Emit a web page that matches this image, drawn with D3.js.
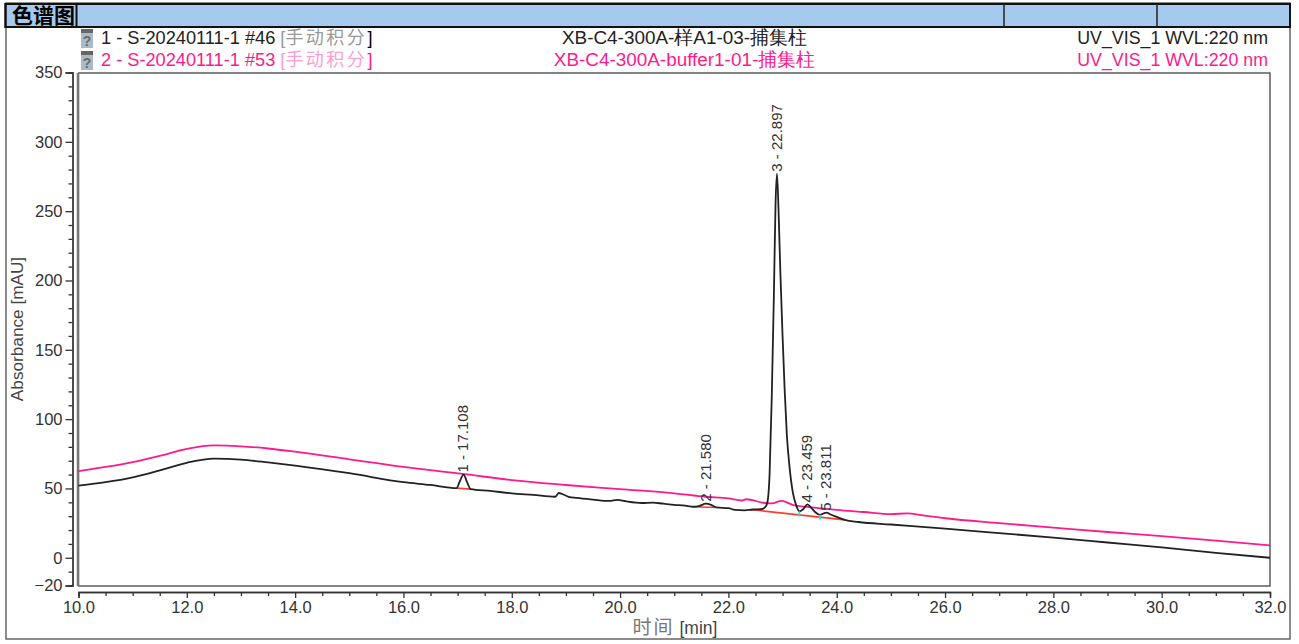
<!DOCTYPE html>
<html>
<head>
<meta charset="utf-8">
<title>色谱图</title>
<script src="https://cdn.jsdelivr.net/npm/d3@7"></script>
<style>
  html, body { margin: 0; padding: 0; background: #fff; }
  svg { display: block; }
  text { font-family: "Liberation Sans", Arial, sans-serif; }
  .cjk { font-family: "Noto Sans CJK SC", sans-serif; }
</style>
</head>
<body>
<div id="chart"></div>
<script>
// values
const timeA = [10, 10.5, 11, 11.5, 12, 12.5, 13, 13.5, 14, 15, 16, 16.5, 16.98, 17.04, 17.108, 17.18, 17.24, 17.6, 18, 18.4, 18.8, 18.87, 18.93, 19.05, 19.2, 19.5, 19.8, 19.95, 20.1, 20.4, 20.6, 20.8, 21, 21.2, 21.35, 21.47, 21.58, 21.68, 21.78, 22, 22.12, 22.3, 22.45, 22.6, 22.68, 22.72, 22.76, 22.8, 22.84, 22.87, 22.897, 22.93, 22.96, 23, 23.04, 23.08, 23.13, 23.19, 23.25, 23.31, 23.38, 23.459, 23.53, 23.6, 23.69, 23.76, 23.811, 23.9, 24, 24.15, 24.4, 25, 26, 27, 28, 29, 30, 31, 32];
const absA = [52, 54.5, 58, 63, 68.5, 71.5, 70.8, 68.8, 66.5, 61, 54.5, 52.5, 50.2, 55, 60, 54, 49.5, 48.2, 46.5, 45.3, 44, 46.7, 46, 44, 43.2, 42, 41, 41.8, 40.8, 39.5, 39.8, 39, 38.2, 37.6, 36.8, 37.5, 39, 38.2, 36.3, 35.8, 34.5, 34.2, 34.8, 35, 36.5, 40, 60, 115, 190, 255, 277, 245, 205, 160, 120, 88, 65, 47, 38, 33.5, 35, 38.5, 36, 33, 31, 32, 32.5, 31, 29.5, 27.3, 25.8, 24, 21, 17.8, 14.5, 11, 7.5, 3.5, 0];

const timeB = [10, 10.5, 11, 11.5, 12, 12.5, 13, 13.5, 14, 15, 16, 17.1, 18, 19, 20, 21, 21.58, 22, 22.25, 22.33, 22.45, 22.6, 22.8, 22.98, 23.2, 23.5, 24, 24.5, 25, 25.3, 25.6, 26, 27, 28, 29, 30, 31, 32];
const absB = [62.5, 65.5, 69, 73.5, 78.5, 81, 80.4, 78.8, 76.5, 71, 65.5, 60.5, 56, 52.5, 49.5, 46.5, 44, 42.8, 41.3, 42.2, 41.5, 40, 39.2, 41, 38, 36.6, 34.5, 33, 31.5, 32, 30.5, 28.5, 25, 21.8, 18.6, 15.6, 12.3, 9];

const baseSegTime = [[16.98, 17.24], [21.35, 21.78], [22.4, 24.15]];
const baseSegAbs = [[50.2, 49.5], [36.8, 36.3], [34.8, 27.3]];
const dropTime = [23.31, 23.69];
const dropAbs = [[33.5, 29.8], [31, 27.6]];

const peakTimes = [17.108, 21.58, 22.897, 23.459, 23.811];
const peakTops = [60, 39, 277, 38.5, 32.5];
const peakLabels = ['1 - 17.108', '2 - 21.580', '3 - 22.897', '4 - 23.459', '5 - 23.811'];

const xTicks = [10, 12, 14, 16, 18, 20, 22, 24, 26, 28, 30, 32];
const yTicks = [-20, 0, 50, 100, 150, 200, 250, 300, 350];
const legendLeft = ['1 - S-20240111-1 #46 ', '2 - S-20240111-1 #53 '];
const legendMid = ['XB-C4-300A-样A1-03-捕集柱', 'XB-C4-300A-buffer1-01-捕集柱'];
const legendRight = ['UV_VIS_1 WVL:220 nm', 'UV_VIS_1 WVL:220 nm'];

const width = 1299, height = 644;
const black = '#222', pink = '#ff1a8c';

const svg = d3.select('#chart').append('svg')
  .attr('width', width)
  .attr('height', height);

const x = d3.scaleLinear().domain([10, 32]).range([78.5, 1270]);
const y = d3.scaleLinear().domain([-20, 350]).range([585.5, 72.5]);

// outer frame + title bar
svg.append('rect').attr('x', 6).attr('y', 3).attr('width', 1284).attr('height', 636)
  .attr('fill', '#fff').attr('stroke', '#666').attr('stroke-width', 1.5);
svg.append('rect').attr('x', 5.5).attr('y', 4).attr('width', 1284.5).attr('height', 23)
  .attr('fill', '#a6c9ee').attr('stroke', '#111').attr('stroke-width', 2);
svg.append('rect').attr('x', 5.5).attr('y', 4).attr('width', 71).attr('height', 23)
  .attr('fill', 'none').attr('stroke', '#111').attr('stroke-width', 2);
[1004, 1157].forEach(d => {
  svg.append('line').attr('x1', d).attr('x2', d).attr('y1', 4).attr('y2', 27)
    .attr('stroke', '#222').attr('stroke-width', 1.5);
});
svg.append('text').attr('class', 'cjk').attr('x', 12).attr('y', 23)
  .attr('font-size', 21).attr('font-weight', 700).attr('fill', '#000').text('色谱图');

// legend rows
const rowY = [44, 66];
const rowColor = [black, pink];
const rowCjk = ['#999', '#ff9fcf'];
legendLeft.forEach((d, i) => {
  const ic = svg.append('g').attr('transform', `translate(81,${rowY[i] - 15})`);
  ic.append('rect').attr('width', 12).attr('height', 19).attr('fill', '#a9bac8');
  ic.append('rect').attr('width', 12).attr('height', 4).attr('fill', '#666');
  ic.append('text').attr('x', 6).attr('y', 17).attr('text-anchor', 'middle')
    .attr('font-size', 14).attr('font-weight', 700).attr('fill', '#6a6a6a').text('?');

  const t = svg.append('text').attr('x', 101).attr('y', rowY[i])
    .attr('font-size', 18.2).attr('fill', rowColor[i]);
  t.append('tspan').text(d);
  t.append('tspan').attr('fill', rowCjk[i]).text('[');
  t.append('tspan').attr('class', 'cjk').attr('font-size', 18).attr('letter-spacing', 2.5).attr('fill', rowCjk[i]).text('手动积分');
  t.append('tspan').attr('fill', i ? pink : '#000').text(']');

  svg.append('text').attr('x', 684.5).attr('y', rowY[i]).attr('text-anchor', 'middle')
    .attr('font-size', 18.9).attr('fill', rowColor[i]).text(legendMid[i]);
  svg.append('text').attr('x', 1268).attr('y', rowY[i]).attr('text-anchor', 'end')
    .attr('font-size', 17.8).attr('fill', rowColor[i]).text(legendRight[i]);
});

// plot box
svg.append('rect').attr('x', 78.5).attr('y', 73).attr('width', 1191.5).attr('height', 513)
  .attr('fill', '#fff').attr('stroke', '#333').attr('stroke-width', 1.2);
svg.append('line').attr('x1', 78).attr('x2', 78).attr('y1', 73).attr('y2', 586)
  .attr('stroke', '#777').attr('stroke-width', 2.5);

// axes
const yAxis = svg.append('g').attr('transform', 'translate(72.5,0)')
  .call(d3.axisLeft(y).tickValues(yTicks).tickSize(7).tickPadding(3).tickFormat(d3.format('d')));
const yMinor = svg.append('g').attr('transform', 'translate(72.5,0)')
  .call(d3.axisLeft(y).tickValues(d3.range(-20, 351, 10).filter(d => !yTicks.includes(d))).tickSize(4).tickFormat(''));
const xAxis = svg.append('g').attr('transform', 'translate(0,592)')
  .call(d3.axisBottom(x).tickValues(xTicks).tickSize(6).tickPadding(3).tickFormat(d3.format('.1f')));
const xMinor = svg.append('g').attr('transform', 'translate(0,592)')
  .call(d3.axisBottom(x).tickValues(d3.range(10, 32.1, 0.5).filter(d => !xTicks.includes(d))).tickSize(4).tickFormat(''));
[yAxis, yMinor, xAxis, xMinor].forEach(a => {
  a.selectAll('path').attr('stroke', '#333').attr('stroke-width', 1.3);
  a.selectAll('line').attr('stroke', '#333').attr('stroke-width', 1.3);
  a.selectAll('text').attr('font-size', 16.5).attr('fill', '#333')
    .style('font-family', '"Liberation Sans", Arial, sans-serif');
});

svg.append('text').attr('transform', 'translate(23,329) rotate(-90)').attr('text-anchor', 'middle')
  .attr('font-size', 17.2).attr('fill', '#444').text('Absorbance [mAU]');
const xt = svg.append('text').attr('x', 675).attr('y', 634).attr('text-anchor', 'middle')
  .attr('font-size', 17.5).attr('fill', '#444');
xt.append('tspan').attr('class', 'cjk').attr('font-size', 19).attr('letter-spacing', 2).attr('fill', '#777').text('时间');
xt.append('tspan').text(' [min]');

// traces
const line = d3.line().x(d => x(d[0])).y(d => y(d[1])).curve(d3.curveMonotoneX);
svg.append('path').datum(d3.zip(timeB, absB)).attr('d', line)
  .attr('fill', 'none').attr('stroke', pink).attr('stroke-width', 1.8);

// integration baselines and peak delimiters
baseSegTime.forEach((seg, i) => {
  svg.append('path').datum(d3.zip(seg, baseSegAbs[i])).attr('d', line)
    .attr('fill', 'none').attr('stroke', '#ff3b30').attr('stroke-width', 1.6);
});

svg.append('path').datum(d3.zip(timeA, absA)).attr('d', line)
  .attr('fill', 'none').attr('stroke', black).attr('stroke-width', 1.8);

dropTime.forEach((t, i) => {
  svg.append('line').attr('x1', x(t)).attr('x2', x(t))
    .attr('y1', y(dropAbs[i][0])).attr('y2', y(dropAbs[i][1]))
    .attr('stroke', '#22e0e0').attr('stroke-width', 2);
});

// peak labels, rotated, sitting just above each peak
svg.selectAll('.peak').data(peakLabels).enter().append('text')
  .attr('class', 'peak')
  .attr('transform', (d, i) => `translate(${x(peakTimes[i]) + 5},${y(peakTops[i]) - 2}) rotate(-90)`)
  .attr('font-size', 15).attr('fill', '#333')
  .text(d => d);
</script>
</body>
</html>
